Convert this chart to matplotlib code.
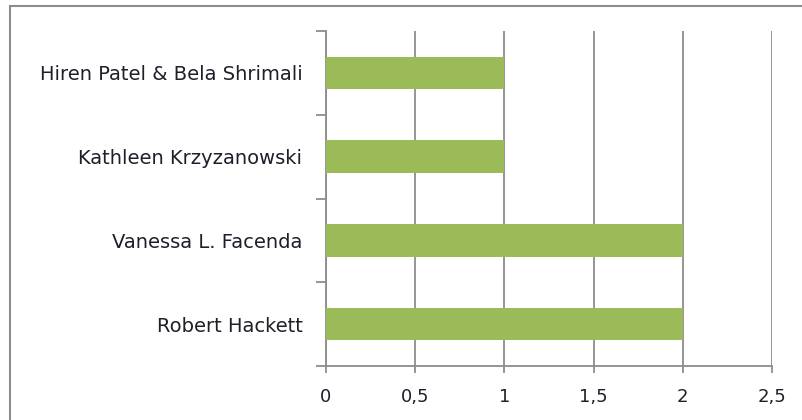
import matplotlib.pyplot as plt
from matplotlib.patches import Rectangle
from matplotlib.ticker import FixedLocator, FuncFormatter

names = ["Robert Hackett", "Vanessa L. Facenda", "Kathleen Krzyzanowski",
         "Hiren Patel & Bela Shrimali"]
counts = [2, 2, 1, 1]
x_ticks = [0, 0.5, 1, 1.5, 2, 2.5]

plt.rcParams['font.family'] = ['DejaVu Sans']

fig = plt.figure(figsize=(8.03, 4.2), dpi=100)
ax = fig.add_axes([326 / 803, 1 - 366 / 420, (772 - 326) / 803, (366 - 31) / 420])

grey = '#8c8c8c'
txt = '#1f1f2a'
pos = list(range(len(names)))
ax.barh(pos, counts, height=0.39, color='#9bbb59', zorder=3)

ax.set_xlim(0, 2.5)
ax.set_ylim(-0.5, len(names) - 0.5)
ax.set_xticks(x_ticks)
ax.xaxis.set_major_formatter(FuncFormatter(lambda v, p: ('%g' % v).replace('.', ',')))
ax.set_yticks(pos)
ax.set_yticklabels(names)
ax.yaxis.set_minor_locator(FixedLocator([i - 0.5 for i in range(len(names) + 1)]))

ax.grid(axis='x', color=grey, linewidth=1.3, zorder=0)
ax.tick_params(axis='x', length=5, width=1.3, color=grey, labelsize=13,
               labelcolor=txt, pad=11)
ax.tick_params(axis='y', which='major', length=0, labelsize=14,
               labelcolor=txt, pad=17)
ax.tick_params(axis='y', which='minor', length=7, width=1.3, color=grey)

for s in ['top', 'right']:
    ax.spines[s].set_visible(False)
for s in ['left', 'bottom']:
    ax.spines[s].set_color(grey)
    ax.spines[s].set_linewidth(1.3)

fig.patches.append(Rectangle((10 / 803, -0.5), 2, 1 - 6 / 420 + 0.5,
                             transform=fig.transFigure, fill=False,
                             edgecolor=grey, linewidth=1.5))

fig.savefig('out.png', dpi=100)
